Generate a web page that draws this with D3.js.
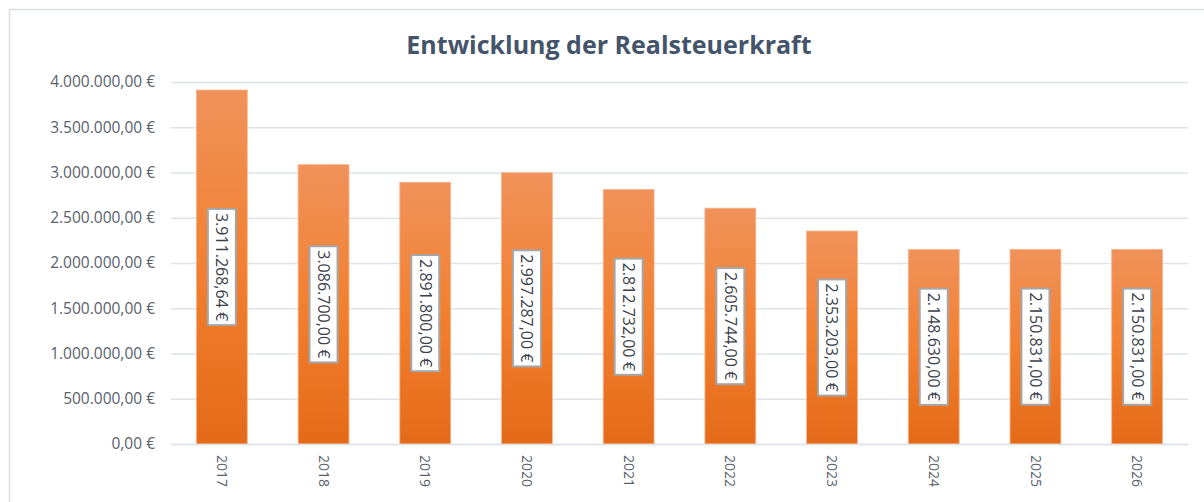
<!DOCTYPE html>
<html><head><meta charset="utf-8">
<script src="https://cdn.jsdelivr.net/npm/d3@7"></script>
<style>html,body{margin:0;padding:0;background:#fff;}svg{display:block;}</style>
</head><body>
<svg id="c" width="1204" height="502"></svg>
<script>
const title = "Entwicklung der Realsteuerkraft";
const years = ["2017","2018","2019","2020","2021","2022","2023","2024","2025","2026"];
const values = [3911268.64, 3086700, 2891800, 2997287, 2812732, 2605744, 2353203, 2148630, 2150831, 2150831];
const yTicks = [0, 500000, 1000000, 1500000, 2000000, 2500000, 3000000, 3500000, 4000000];

const locale = d3.formatLocale({decimal: ",", thousands: ".", grouping: [3], currency: ["", " €"]});
const fmt = locale.format(",.2f");
const euro = v => fmt(v) + " €";

const svg = d3.select("#c");
const font = "'Open Sans', sans-serif";
const m = {l:171, r:1188, t:82, b:444};

// frame
svg.append("rect").attr("x",9.5).attr("y",9.5).attr("width",1205).attr("height",505)
  .attr("fill","#fff").attr("stroke","#d9dde3").attr("stroke-width",1.5);

const x = d3.scaleBand().domain(years).range([m.l, m.r]).paddingInner(0.5).paddingOuter(0.25);
const y = d3.scaleLinear().domain([0, 4000000]).range([m.b, m.t]);

const defs = svg.append("defs");
const g = defs.append("linearGradient").attr("id","bar").attr("x1",0).attr("y1",0).attr("x2",0).attr("y2",1);
g.append("stop").attr("offset","0%").attr("stop-color","#f0925a");
g.append("stop").attr("offset","50%").attr("stop-color","#f28030");
g.append("stop").attr("offset","100%").attr("stop-color","#e46a18");

// grid
const yAxis = d3.axisLeft(y).tickValues(yTicks).tickSize(-(m.r-m.l)).tickFormat(euro).tickPadding(16);
const ya = svg.append("g").attr("transform",`translate(${m.l},0)`).call(yAxis);
ya.select(".domain").remove();
ya.selectAll(".tick line").attr("stroke","#dfe3e8").attr("stroke-width",1.5);
ya.selectAll(".tick text").attr("fill","#595f6b").attr("font-family",font).attr("font-size","15.5px");

// bars
svg.append("g").selectAll("rect").data(values).join("rect")
  .attr("x",(d,i)=>x(years[i])).attr("width",x.bandwidth())
  .attr("y",d=>y(d)).attr("height",d=>y(0)-y(d))
  .attr("fill","url(#bar)").attr("stroke","#f7b48a").attr("stroke-width",0.8);

// x axis
const xAxis = d3.axisBottom(x).tickSize(0).tickPadding(0);
const xa = svg.append("g").attr("transform",`translate(0,${m.b})`).call(xAxis);
xa.select(".domain").attr("stroke","#dfe3e8").attr("stroke-width",1.5);
xa.selectAll(".tick text").attr("fill","#595f6b").attr("font-family",font).attr("font-size","14px")
  .attr("text-anchor","start").attr("dy","0.35em")
  .attr("transform","translate(0,11) rotate(90)");

// labels
const lg = svg.append("g").selectAll("g").data(values).join("g")
  .attr("transform",(d,i)=>`translate(${x(years[i])+x.bandwidth()/2},${(y(d)+y(0))/2}) rotate(90)`);
lg.each(function(d){
  const s = d3.select(this);
  const t = s.append("text").text(euro(d)).attr("font-family",font).attr("font-size","16px")
    .attr("fill","#3a3f4a").attr("text-anchor","middle").attr("dy","0.35em");
  const w = t.node().getComputedTextLength();
  s.insert("rect","text").attr("x",-w/2-4).attr("y",-14).attr("width",w+8).attr("height",28)
    .attr("fill","#fff").attr("stroke","#a6a6a6").attr("stroke-width",2);
});

// title
svg.append("text").text(title).attr("x",609).attr("y",54).attr("text-anchor","middle")
  .attr("font-family",font).attr("font-weight","bold").attr("font-size","25px").attr("fill","#44546a");
</script>
</body></html>
